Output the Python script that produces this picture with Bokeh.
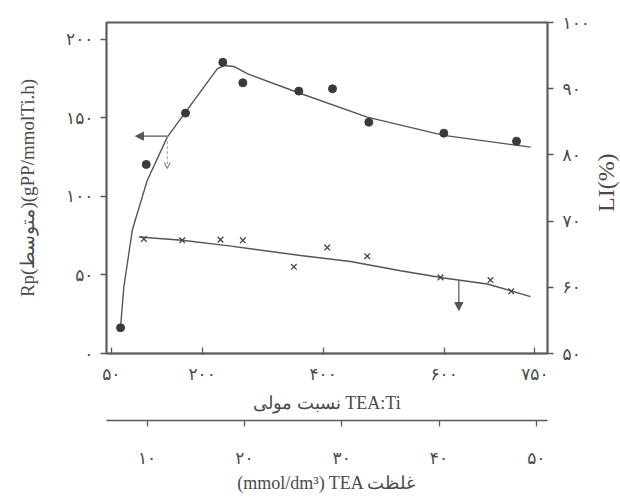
import math
from bokeh.plotting import figure
from bokeh.models import Range1d, LinearAxis, FixedTicker, Arrow, NormalHead, OpenHead, Title, Label
from bokeh.embed import file_html
from bokeh.resources import INLINE

# ---------------- data ----------------
# Rp (left axis) measured points vs TEA:Ti molar ratio
rp_tea_ti = [65.2, 107.7, 172.6, 234.2, 267.3, 359.8, 415.5, 475.5, 599.5, 719.6]
rp_values = [16.4, 120.4, 153.1, 185.5, 172.4, 167.1, 168.6, 147.3, 140.3, 135.2]
# Rp fitted curve
rp_fit_tea_ti = [65.2, 70.6, 84.5, 92.8, 109.3, 142.4, 172.6, 225.0, 235.9, 252.4, 274.6, 362.7, 472.9, 599.5, 742.8]
rp_fit_values = [16.6, 42.2, 78.3, 89.2, 110.2, 137.8, 153.7, 181.3, 183.4, 182.8, 178.2, 165.6, 150.5, 138.9, 131.4]

# LI (right axis) measured points
li_tea_ti = [103.7, 167.1, 230.4, 267.3, 351.6, 406.8, 472.9, 594.0, 676.6, 710.8]
li_values = [67.3, 67.1, 67.2, 67.1, 63.1, 66.0, 64.7, 61.5, 61.1, 59.4]
# LI fitted line
li_fit_tea_ti = [95.4, 167.1, 241.5, 362.7, 445.3, 527.9, 599.5, 671.2, 742.8]
li_fit_values = [67.6, 67.1, 66.3, 64.8, 63.9, 62.5, 61.4, 60.5, 58.6]

# axis indicator arrows
rp_arrow_x = [142.4, 90.0]
rp_arrow_y = [138.4, 138.4]
rp_drop_x = [142.4, 142.4]
rp_drop_y = [138.4, 117.8]
li_arrow_x = [624.3, 624.3]
li_arrow_y = [61.0, 56.5]

# ticks and labels
x_ticks = [50, 200, 400, 600, 750]
x_tick_labels = ["۵۰", "۲۰۰", "۴۰۰", "۶۰۰", "۷۵۰"]
y_left_ticks = [0, 50, 100, 150, 200]
y_left_labels = ["۰", "۵۰", "۱۰۰", "۱۵۰", "۲۰۰"]
y_right_ticks = [50, 60, 70, 80, 90, 100]
y_right_labels = ["۵۰", "۶۰", "۷۰", "۸۰", "۹۰", "۱۰۰"]
conc_ticks = [10, 20, 30, 40, 50]
conc_labels = ["۱۰", "۲۰", "۳۰", "۴۰", "۵۰"]

x_title = "\u200eنسبت مولی TEA:Ti"
conc_title = "(mmol/dm³) TEA غلظت"
y_left_title = "Rp(متوسط)(gPP/mmolTi.h)"
y_right_title = "LI(%)"

# ---------------- figure ----------------
AX = "#5a5a5a"
TXT = "#4a4a4a"
SERIF = "Liberation Serif"

p = figure(width=620, height=498, output_backend="svg", toolbar_location=None,
           x_range=Range1d(42.0, 770.8), y_range=Range1d(0, 210.8),
           min_border_left=106, min_border_right=73, min_border_top=22, min_border_bottom=145)
p.extra_y_ranges = {"li": Range1d(50, 100)}
p.extra_x_ranges = {"conc": Range1d(5.83, 51.15)}
p.grid.visible = False
p.background_fill_color = "white"
p.border_fill_color = "white"
p.outline_line_color = AX
p.outline_line_width = 1.8


def style_axis(ax, ticks, labels):
    ax.ticker = FixedTicker(ticks=ticks)
    ax.major_label_overrides = {t: l for t, l in zip(ticks, labels)}
    ax.minor_tick_line_color = None
    ax.axis_line_color = AX
    ax.axis_line_width = 1.6
    ax.major_tick_line_color = AX
    ax.major_tick_line_width = 1.3
    ax.major_label_text_font = "DejaVu Sans"
    ax.major_label_text_font_size = "17px"
    ax.major_label_text_color = TXT
    ax.axis_label_text_font = SERIF
    ax.axis_label_text_font_style = "normal"
    ax.axis_label_text_color = TXT
    ax.axis_label_text_font_size = "18px"


# bottom axis (TEA:Ti)
xa = p.xaxis[0]
style_axis(xa, x_ticks, x_tick_labels)
xa.major_tick_in = 6
xa.major_tick_out = 1
xa.major_label_standoff = 9

# left axis (Rp)
ya = p.yaxis[0]
style_axis(ya, y_left_ticks, y_left_labels)
ya.major_tick_in = 0
ya.major_tick_out = 6
ya.major_label_standoff = 7
ya.axis_label = y_left_title
ya.axis_label_text_font_size = "19px"
ya.axis_label_standoff = 25

# right axis (LI)
ra = LinearAxis(y_range_name="li")
style_axis(ra, y_right_ticks, y_right_labels)
ra.major_tick_in = 0
ra.major_tick_out = 6
ra.major_label_standoff = 9
p.add_layout(ra, "right")

# right axis title, reading bottom-to-top, placed just outside the tick labels
p.add_layout(Label(x=866.7, y=75.8, y_range_name="li", text=y_right_title, angle=math.pi / 2,
                   text_align="center", text_baseline="middle", text_font=SERIF,
                   text_font_size="24px", text_color=TXT), "right")

# title of TEA:Ti axis as a separate below-title (to leave a gap before second axis)
xt = Title(text=x_title, align="center", vertical_align="top", standoff=12,
           text_font=SERIF, text_font_size="18px", text_font_style="normal", text_color=TXT)
p.add_layout(xt, "below")

# second bottom axis (TEA concentration)
ca = LinearAxis(x_range_name="conc")
style_axis(ca, conc_ticks, conc_labels)
ca.major_tick_in = 0
ca.major_tick_out = 6
ca.major_label_standoff = 21
ca.axis_label = conc_title
ca.axis_label_standoff = 2
p.add_layout(ca, "below")

# ---------------- marks ----------------
LINE = "#555555"
p.line(rp_fit_tea_ti, rp_fit_values, line_color=LINE, line_width=1.4)
p.scatter(rp_tea_ti, rp_values, marker="circle", size=8, fill_color="#3a3a3a", line_color="#3a3a3a")

p.line(li_fit_tea_ti, li_fit_values, line_color=LINE, line_width=1.4, y_range_name="li")
p.scatter(li_tea_ti, li_values, marker="x", size=8, line_color="#444444", line_width=1.3, y_range_name="li")

p.add_layout(Arrow(end=NormalHead(size=8, fill_color=LINE, line_color=LINE),
                   x_start=rp_arrow_x[0], y_start=rp_arrow_y[0], x_end=rp_arrow_x[1], y_end=rp_arrow_y[1],
                   line_color=LINE, line_width=1.2))
p.add_layout(Arrow(end=OpenHead(size=6, line_color="#888888", line_width=1.2),
                   x_start=rp_drop_x[0], y_start=rp_drop_y[0], x_end=rp_drop_x[1], y_end=rp_drop_y[1],
                   line_color="#999999", line_width=1.0, line_dash="3 2"))
p.add_layout(Arrow(end=NormalHead(size=8, fill_color=LINE, line_color=LINE),
                   x_start=li_arrow_x[0], y_start=li_arrow_y[0], x_end=li_arrow_x[1], y_end=li_arrow_y[1],
                   line_color=LINE, line_width=1.2, y_range_name="li"))

open("out.html", "w").write(file_html(p, INLINE))
